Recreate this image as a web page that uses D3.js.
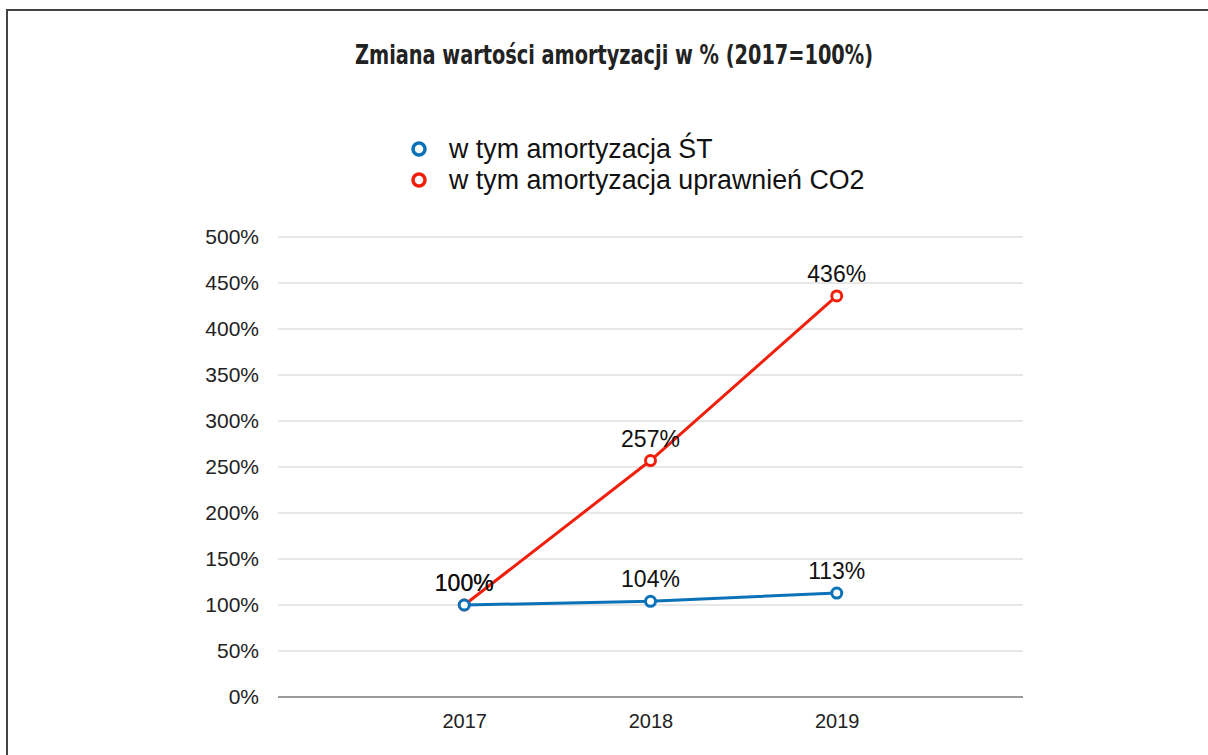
<!DOCTYPE html>
<html>
<head>
<meta charset="utf-8">
<script src="https://cdn.jsdelivr.net/npm/d3@7"></script>
<style>
  body { margin: 0; background: #fff; }
  svg { display: block; }
</style>
</head>
<body>
<div id="chart"></div>
<script>
// --------------------------------------
//  Data
// --------------------------------------

const years = [2017, 2018, 2019];
const seriesNames = ["w tym amortyzacja ŚT", "w tym amortyzacja uprawnień CO2"];
const valuesST = [100, 104, 113];
const valuesCO2 = [100, 257, 436];
const yTicks = [0, 50, 100, 150, 200, 250, 300, 350, 400, 450, 500];
const colors = ["#0b72b9", "#f0200d"];

const width = 1208, height = 755;
const margin = { top: 237, right: 185, bottom: 58, left: 278 };
const innerwidth = width - margin.left - margin.right;
const innerheight = height - margin.top - margin.bottom;

// --------------------------------------
//  Canvas
// --------------------------------------

const svg = d3.select("#chart")
  .append("svg")
    .attr("width", width)
    .attr("height", height);

// frame
svg.append("path")
    .attr("d", `M7,${height} V10 H${width}`)
    .attr("fill", "none")
    .attr("stroke", "#444")
    .attr("stroke-width", 2);

svg.append("text")
    .attr("x", 355)
    .attr("y", 64)
    .attr("font-family", "'DejaVu Sans Condensed', 'Liberation Sans Narrow', sans-serif")
    .attr("font-weight", "bold")
    .attr("font-size", 27)
    .attr("textLength", 518)
    .attr("lengthAdjust", "spacingAndGlyphs")
    .attr("fill", "#222")
    .text("Zmiana wartości amortyzacji w % (2017=100%)");

const inner = svg.append("g")
    .attr("transform", `translate(${margin.left}, ${margin.top})`);

// --------------------------------------
//  Scales
// --------------------------------------

const x = d3.scaleLinear()
    .domain([2016, 2020])
    .range([0, innerwidth]);

const y = d3.scaleLinear()
    .domain([0, 500])
    .range([innerheight, 0]);

// --------------------------------------
//  Axes
// --------------------------------------

inner.append("g")
    .selectAll("line")
    .data(yTicks)
    .join("line")
    .attr("x1", 0)
    .attr("x2", innerwidth)
    .attr("y1", d => y(d))
    .attr("y2", d => y(d))
    .attr("stroke", d => d === 0 ? "#777" : "#cfcfcf")
    .attr("stroke-width", d => d === 0 ? 1.5 : 1);

const yAxis = inner.append("g")
    .call(d3.axisLeft(y).tickValues(yTicks).tickFormat(d => d + "%").tickSize(0).tickPadding(19));
yAxis.select(".domain").remove();
yAxis.selectAll("text")
    .attr("font-family", "'Liberation Sans', Arial, sans-serif")
    .attr("font-size", 21)
    .attr("fill", "#222");

const xAxis = inner.append("g")
    .attr("transform", `translate(0, ${innerheight})`)
    .call(d3.axisBottom(x).tickValues(years).tickFormat(d3.format("d")).tickSize(0).tickPadding(17));
xAxis.select(".domain").remove();
xAxis.selectAll("text")
    .attr("font-family", "'Liberation Sans', Arial, sans-serif")
    .attr("font-size", 20)
    .attr("fill", "#222");

// --------------------------------------
//  Lines
// --------------------------------------

const line = d3.line()
    .x((d, i) => x(years[i]))
    .y(d => y(d));

const series = [valuesCO2, valuesST];
const seriesColors = [colors[1], colors[0]];

series.forEach((vals, k) => {
  const g = inner.append("g");
  g.append("path")
      .datum(vals)
      .attr("d", line)
      .attr("fill", "none")
      .attr("stroke", seriesColors[k])
      .attr("stroke-width", 3);
  g.selectAll("circle")
      .data(vals)
      .join("circle")
      .attr("cx", (d, i) => x(years[i]))
      .attr("cy", d => y(d))
      .attr("r", 5)
      .attr("fill", "#fff")
      .attr("stroke", seriesColors[k])
      .attr("stroke-width", 3);
  g.selectAll("text")
      .data(vals)
      .join("text")
      .attr("x", (d, i) => x(years[i]))
      .attr("y", d => y(d) - 14)
      .attr("text-anchor", "middle")
      .attr("font-family", "'Liberation Sans', Arial, sans-serif")
      .attr("font-size", 23)
      .attr("fill", "#111")
      .text(d => d + "%");
});

// --------------------------------------
//  Legend
// --------------------------------------

const legend = svg.append("g")
    .selectAll("g")
    .data(seriesNames)
    .join("g")
    .attr("transform", (d, i) => `translate(419, ${149 + i * 31})`);

legend.append("circle")
    .attr("r", 6)
    .attr("fill", "#fff")
    .attr("stroke", (d, i) => colors[i])
    .attr("stroke-width", 3.5);

legend.append("text")
    .attr("x", 30)
    .attr("y", 9)
    .attr("font-family", "'Liberation Sans', Arial, sans-serif")
    .attr("font-size", 26.8)
    .attr("fill", "#111")
    .text(d => d);
</script>
</body>
</html>
